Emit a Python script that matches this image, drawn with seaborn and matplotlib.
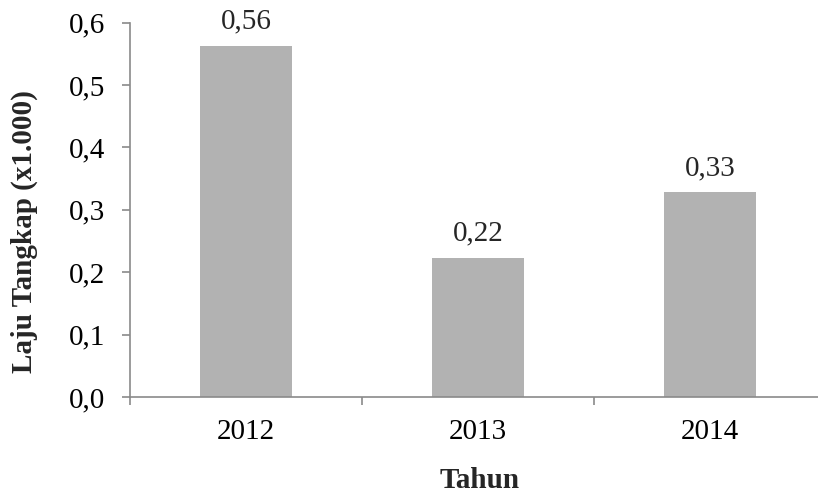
import matplotlib
matplotlib.use("Agg")
import matplotlib.pyplot as plt
import seaborn as sns
import pandas as pd
from matplotlib.ticker import FuncFormatter, FixedLocator

years = ["2012", "2013", "2014"]
values = [0.563, 0.223, 0.328]
bar_labels = ["0,56", "0,22", "0,33"]
y_ticks = [0.0, 0.1, 0.2, 0.3, 0.4, 0.5, 0.6]

sns.set_style("ticks")
plt.rcParams["font.family"] = ["Liberation Serif", "DejaVu Serif"]

df = pd.DataFrame({"Tahun": years, "Laju": values})

FS = 21
W, H = 818, 497
fig = plt.figure(figsize=(W / 100, H / 100), dpi=100)
left, right, top, bottom = 130, 826, 22.7, 397
ax = fig.add_axes([left / W, 1 - bottom / H, (right - left) / W, (bottom - top) / H])

sns.barplot(data=df, x="Tahun", y="Laju", color="#b2b2b2", saturation=1,
            width=0.4, ax=ax)
for p in ax.patches:
    p.set_edgecolor("none")

ax.set_xlim(-0.5, 2.5)
ax.set_ylim(0, 0.6)
ax.set_yticks(y_ticks)
ax.yaxis.set_major_formatter(FuncFormatter(lambda v, pos: f"{v:.1f}".replace(".", ",")))
ax.xaxis.set_minor_locator(FixedLocator([-0.5, 0.5, 1.5, 2.5]))

axis_color = "#8a8a8a"
for side in ["top", "right"]:
    ax.spines[side].set_visible(False)
for side in ["left", "bottom"]:
    ax.spines[side].set_color(axis_color)
    ax.spines[side].set_linewidth(1.2)

ax.tick_params(axis="y", which="major", direction="out", length=5.8, width=1.2,
               color=axis_color, pad=12, labelsize=FS, labelcolor="black")
ax.tick_params(axis="x", which="major", length=0, pad=16, labelsize=FS, labelcolor="black")
ax.tick_params(axis="x", which="minor", direction="out", length=5.8, width=1.2,
               color=axis_color)

ax.set_xlabel("")
ax.set_ylabel("")

ax.bar_label(ax.containers[0], labels=bar_labels, padding=8, fontsize=FS)

fig.text(24.7 / W, 1 - 232 / H, "Laju Tangkap (x1.000)", rotation=90,
         ha="center", va="center", fontsize=FS, fontweight="bold")
fig.text(480 / W, 1 - 480 / H, "Tahun", ha="center", va="center",
         fontsize=FS, fontweight="bold")

fig.savefig("out.png", dpi=100)
